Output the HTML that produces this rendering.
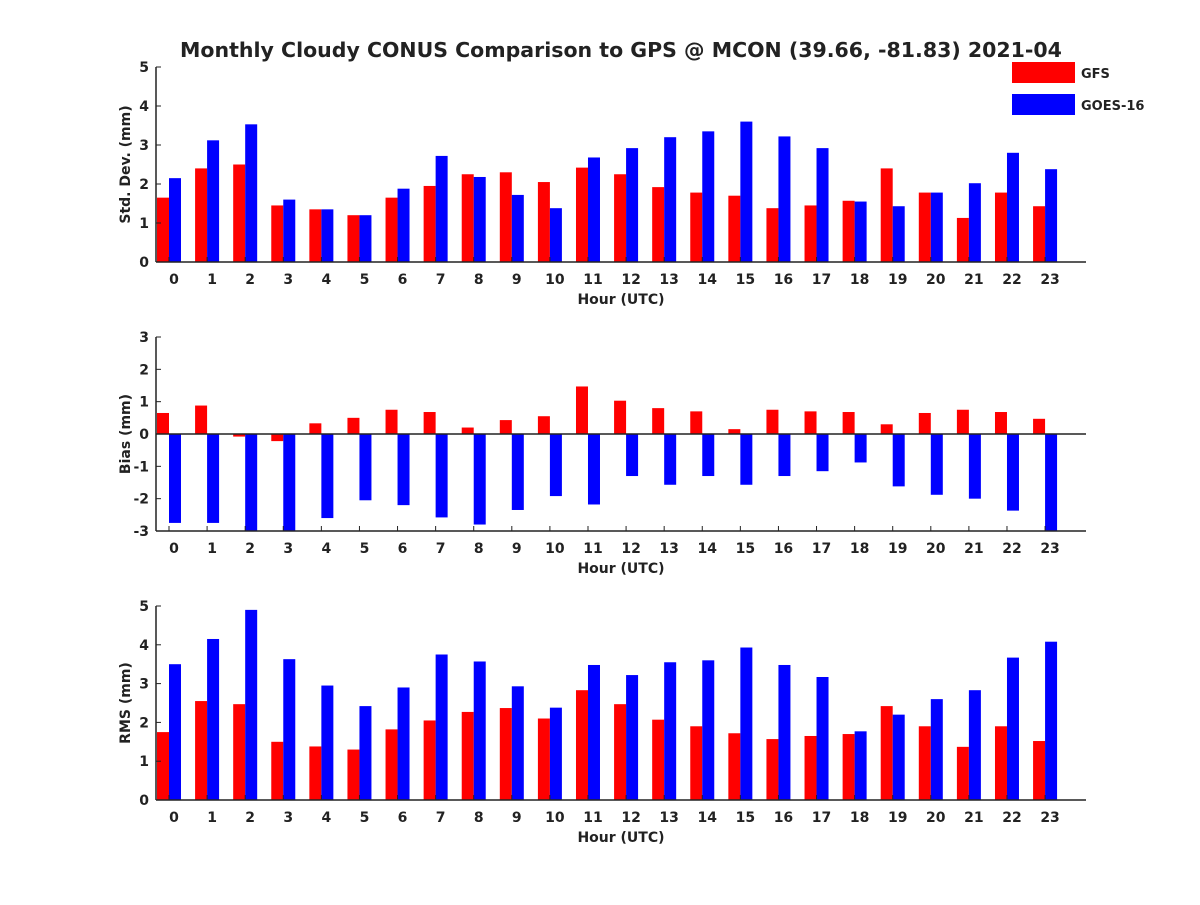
<!DOCTYPE html>
<html><head><meta charset="utf-8"><style>
body{margin:0;background:#fff}
text{font-family:"DejaVu Sans","Liberation Sans",sans-serif;font-weight:bold;fill:#222}
</style></head><body>
<svg id="chart" width="1200" height="900" xmlns="http://www.w3.org/2000/svg">
<rect width="1200" height="900" fill="#fff"/>
<text x="621" y="57" font-size="20.5" text-anchor="middle">Monthly Cloudy CONUS Comparison to GPS @ MCON (39.66, -81.83) 2021-04</text>
<g>
<rect x="1012" y="62" width="63" height="21" fill="#ff0000"/>
<text x="1081" y="78" font-size="13">GFS</text>
<rect x="1012" y="94" width="63" height="21" fill="#0000ff"/>
<text x="1081" y="110" font-size="13">GOES-16</text>
</g>
</svg>
<script>
const hours=[0,1,2,3,4,5,6,7,8,9,10,11,12,13,14,15,16,17,18,19,20,21,22,23];
const stdGFS=[1.65,2.4,2.5,1.45,1.35,1.2,1.65,1.95,2.25,2.3,2.05,2.42,2.25,1.92,1.78,1.7,1.38,1.45,1.57,2.4,1.78,1.13,1.78,1.43];
const stdGOES=[2.15,3.12,3.53,1.6,1.35,1.2,1.88,2.72,2.18,1.72,1.38,2.68,2.92,3.2,3.35,3.6,3.22,2.92,1.55,1.43,1.78,2.02,2.8,2.38];
const biasGFS=[0.65,0.88,-0.08,-0.22,0.33,0.5,0.75,0.68,0.2,0.43,0.55,1.47,1.03,0.8,0.7,0.15,0.75,0.7,0.68,0.3,0.65,0.75,0.68,0.47];
const biasGOES=[-2.75,-2.75,-3,-3,-2.6,-2.05,-2.2,-2.58,-2.8,-2.35,-1.92,-2.18,-1.3,-1.57,-1.3,-1.57,-1.3,-1.15,-0.88,-1.62,-1.88,-2,-2.37,-3];
const rmsGFS=[1.75,2.55,2.47,1.5,1.38,1.3,1.82,2.05,2.27,2.37,2.1,2.83,2.47,2.07,1.9,1.72,1.57,1.65,1.7,2.42,1.9,1.37,1.9,1.52];
const rmsGOES=[3.5,4.15,4.9,3.63,2.95,2.42,2.9,3.75,3.57,2.93,2.38,3.48,3.22,3.55,3.6,3.93,3.48,3.17,1.77,2.2,2.6,2.83,3.67,4.08];
const stdTicks=[0,1,2,3,4,5], biasTicks=[-3,-2,-1,0,1,2,3], rmsTicks=[0,1,2,3,4,5];
const NS="http://www.w3.org/2000/svg", svg=document.getElementById('chart');
function mk(t,a,p){const e=document.createElementNS(NS,t);for(const k in a)e.setAttribute(k,a[k]);(p||svg).appendChild(e);return e;}
const xL=156,xR=1086,x0=169,dx=38.09,bw=12;
function xs(h){return x0+h*dx;}
function panel(name,top,bot,ymin,ymax,ticks,g1,g2,ylab){
  const g=mk('g',{});
  
  
  const ys=v=>bot-(v-ymin)/(ymax-ymin)*(bot-top);
  const base=ys(Math.max(ymin,0));
  hours.forEach((h,i)=>{
    [[g1[i],'#ff0000',-bw,'gfs'],[g2[i],'#0000ff',0,'goes']].forEach(([v,c,off,s])=>{
      const y=ys(v),r=mk('rect',{x:xs(h)+off,y:Math.min(y,base),width:bw,height:Math.abs(base-y),fill:c},g);
      
      
    });
    const t=mk('text',{x:xs(h)+5,y:bot+22,'font-size':14,'text-anchor':'middle'},g);t.textContent=h;
    
    
    mk('line',{x1:xs(h),x2:xs(h),y1:bot,y2:bot-5,stroke:'#222'},g);
  });
  ticks.forEach(v=>{
    const t=mk('text',{x:xL-7,y:ys(v)+5,'font-size':14,'text-anchor':'end'},g);t.textContent=v;
    
    
    mk('line',{x1:xL,x2:xL+5,y1:ys(v),y2:ys(v),stroke:'#222'},g);
  });
  mk('line',{x1:xL,x2:xL,y1:top,y2:bot,stroke:'#222','stroke-width':1.5},g);
  mk('line',{x1:xL,x2:xR,y1:bot,y2:bot,stroke:'#222','stroke-width':1.5},g);
  if(ymin<0)mk('line',{x1:xL,x2:xR,y1:ys(0),y2:ys(0),stroke:'#222','stroke-width':1.5},g);
  const xl=mk('text',{x:621,y:bot+42,'font-size':14,'text-anchor':'middle'},g);xl.textContent='Hour (UTC)';
  
  
  const yc=(top+bot)/2,yl=mk('text',{x:130,y:yc,'font-size':14,'text-anchor':'middle',transform:`rotate(-90 130 ${yc})`},g);yl.textContent=ylab;
  
  
}
panel('std',67,262,0,5,stdTicks,stdGFS,stdGOES,'Std. Dev. (mm)');
panel('bias',337,531,-3,3,biasTicks,biasGFS,biasGOES,'Bias (mm)');
panel('rms',606,800,0,5,rmsTicks,rmsGFS,rmsGOES,'RMS (mm)');
</script>
</body></html>
